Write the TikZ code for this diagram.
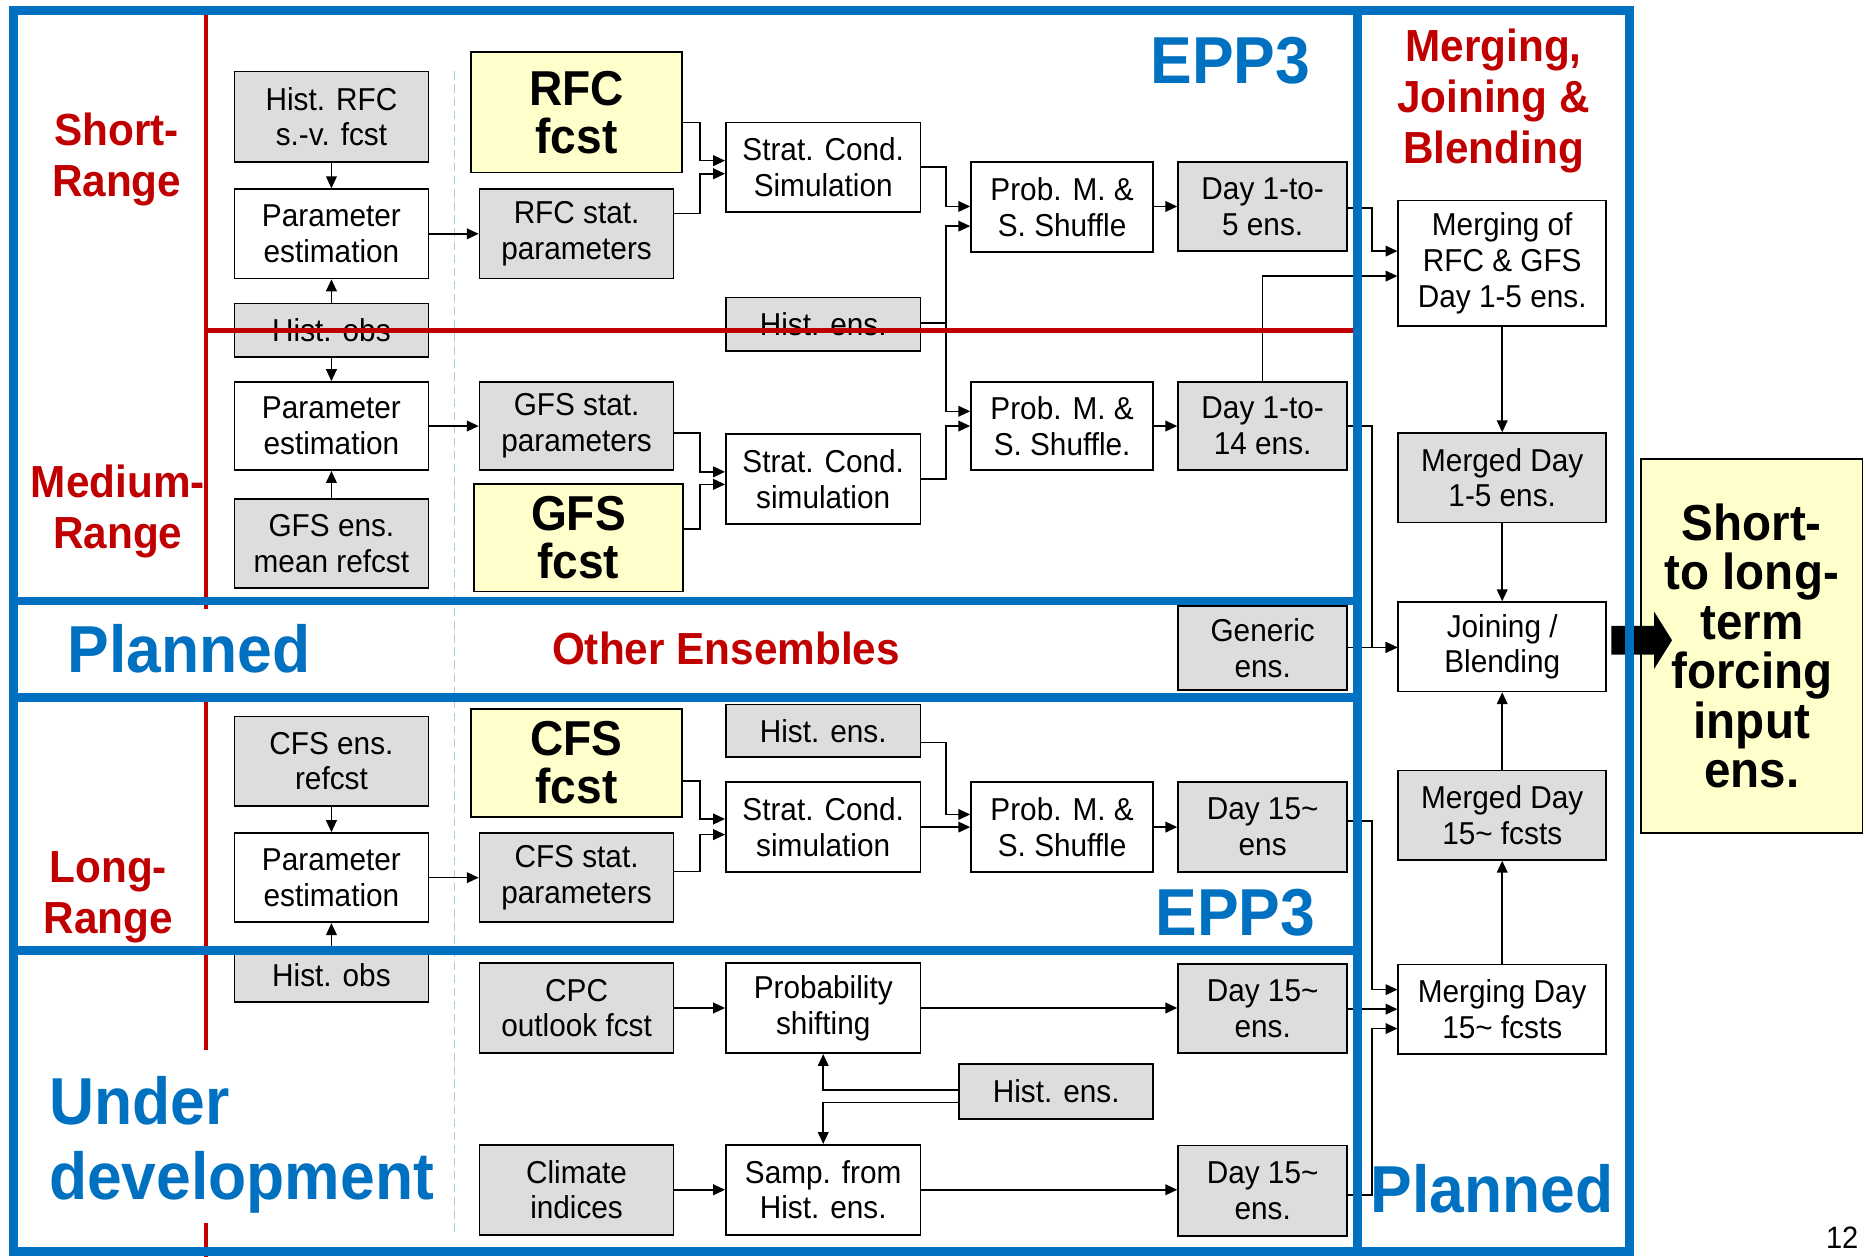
\documentclass[tikz,border=0pt]{standalone}
\usepackage{fontspec}
\setmainfont[FakeStretch=0.94]{Liberation Sans}
\usetikzlibrary{arrows.meta}
\definecolor{eppblue}{HTML}{0070C0}
\definecolor{eppred}{HTML}{C00000}
\definecolor{boxgray}{HTML}{DDDDDD}
\definecolor{boxyellow}{HTML}{FFFFCC}
\definecolor{dashcyan}{HTML}{A8D0DC}
\begin{document}
\begin{tikzpicture}[x=1pt,y=-1pt,
  base/.style={draw=black, line width=1.5pt, align=center, inner sep=0pt, font=\fontsize{26.6}{30}\selectfont},
  gbox/.style={base, fill=boxgray},
  wbox/.style={base, fill=white},
  ybox/.style={base, fill=boxyellow, font=\fontsize{41.2}{40}\selectfont\bfseries},
  arr/.style={line width=1.3pt, -{Triangle[length=10pt,width=9pt]}},
  redlbl/.style={text=eppred, font=\fontsize{37.8}{43}\selectfont\bfseries, align=center, inner sep=0pt},
  bluelbl/.style={text=eppblue, font=\fontsize{55.8}{63}\selectfont\bfseries, inner sep=0pt},
  blueline/.style={draw=eppblue, line width=7.5pt},
  redline/.style={draw=eppred, line width=4pt},
]
\useasboundingbox (0,0) rectangle (1568,1056);
\clip (0,0) rectangle (1568,1056);
\fill[white] (0,0) rectangle (1568,1056);

% dashed guide
\draw[dashcyan, line width=1.3pt, dash pattern=on 7pt off 4pt] (382,60) -- (382,1036);

% column 1
\node[gbox, minimum width=163pt, minimum height=76pt] (hrfc) at (278.5,98) {Hist. RFC\\s.-v. fcst};
\node[wbox, minimum width=163pt, minimum height=75pt] (pe1) at (278.5,196.5) {Parameter\\estimation};
\node[gbox, minimum width=163pt, minimum height=45pt] (hobs1) at (278.5,277.5) {Hist. obs};
\node[wbox, minimum width=163pt, minimum height=74pt] (pe2) at (278.5,358) {Parameter\\estimation};
\node[gbox, minimum width=163pt, minimum height=75pt] (gfsens) at (278.5,456.5) {GFS ens.\\mean refcst};
\node[gbox, minimum width=163pt, minimum height=75pt] (cfsens) at (278.5,639.5) {CFS ens.\\refcst};
\node[wbox, minimum width=163pt, minimum height=75pt] (pe3) at (278.5,737.5) {Parameter\\estimation};
\node[gbox, minimum width=163pt, minimum height=45pt] (hobs2) at (278.5,819.5) {Hist. obs};

% column 2
\node[ybox, minimum width=177pt, minimum height=101pt] (rfcf) at (484.5,94.5) {RFC\\fcst};
\node[gbox, minimum width=163pt, minimum height=75pt] (rfcstat) at (484.5,196.5) {RFC stat.\\parameters};
\node[gbox, minimum width=163pt, minimum height=74pt] (gfsstat) at (484.5,358) {GFS stat.\\parameters};
\node[ybox, minimum width=176pt, minimum height=90pt] (gfsf) at (486,452) {GFS\\fcst};
\node[ybox, minimum width=177pt, minimum height=90.5pt] (cfsf) at (484.5,641) {CFS\\fcst};
\node[gbox, minimum width=163pt, minimum height=75pt] (cfsstat) at (484.5,737.5) {CFS stat.\\parameters};
\node[gbox, minimum width=163pt, minimum height=76pt] (cpc) at (484.5,847) {CPC\\outlook fcst};
\node[gbox, minimum width=163pt, minimum height=75.5pt] (climate) at (484.5,999.75) {Climate\\indices};

% column 3
\node[wbox, minimum width=163.5pt, minimum height=75pt] (strat1) at (691.75,140.5) {Strat. Cond.\\Simulation};
\node[gbox, minimum width=163.5pt, minimum height=45pt] (histens1) at (691.75,272.5) {Hist. ens.};
\node[wbox, minimum width=163.5pt, minimum height=75pt] (strat2) at (691.75,402.5) {Strat. Cond.\\simulation};
\node[gbox, minimum width=163.5pt, minimum height=44pt] (histens2) at (691.75,614) {Hist. ens.};
\node[wbox, minimum width=163.5pt, minimum height=76pt] (strat3) at (691.75,695) {Strat. Cond.\\simulation};
\node[wbox, minimum width=163.5pt, minimum height=76pt] (probshift) at (691.75,847) {Probability\\shifting};
\node[wbox, minimum width=163.5pt, minimum height=75.5pt] (samp) at (691.75,999.75) {Samp. from\\Hist. ens.};

% column 4
\node[wbox, minimum width=153pt, minimum height=76pt] (prob1) at (892.5,174) {Prob. M. \&\\S. Shuffle};
\node[wbox, minimum width=153pt, minimum height=74pt] (prob2) at (892.5,358) {Prob. M. \&\\S. Shuffle.};
\node[wbox, minimum width=153pt, minimum height=76pt] (prob3) at (892.5,695) {Prob. M. \&\\S. Shuffle};
\node[gbox, minimum width=163pt, minimum height=46pt] (histens3) at (887.5,917) {Hist. ens.};

% column 5
\node[gbox, minimum width=142pt, minimum height=75pt] (day5) at (1061,173.5) {Day 1-to-\\5 ens.};
\node[gbox, minimum width=142pt, minimum height=74pt] (day14) at (1061,358) {Day 1-to-\\14 ens.};
\node[gbox, minimum width=142pt, minimum height=71pt] (generic) at (1061,544.5) {Generic\\ens.};
\node[gbox, minimum width=142pt, minimum height=76pt] (day15a) at (1061,695) {Day 15\textasciitilde\\ens};
\node[gbox, minimum width=142pt, minimum height=75pt] (day15b) at (1061,847.5) {Day 15\textasciitilde\\ens.};
\node[gbox, minimum width=142pt, minimum height=76pt] (day15c) at (1061,1000.5) {Day 15\textasciitilde\\ens.};

% right column
\node[wbox, minimum width=174.6pt, minimum height=105.5pt] (merge15) at (1262.3,221.25) {Merging of\\RFC \& GFS\\Day 1-5 ens.};
\node[gbox, minimum width=174.6pt, minimum height=75pt] (merged15) at (1262.3,401.5) {Merged Day\\1-5 ens.};
\node[wbox, minimum width=174.6pt, minimum height=75pt] (join) at (1262.3,543.5) {Joining /\\Blending};
\node[gbox, minimum width=174.6pt, minimum height=75pt] (merged15d) at (1262.3,685) {Merged Day\\15\textasciitilde{} fcsts};
\node[wbox, minimum width=174.6pt, minimum height=75pt] (merging15) at (1262.3,848) {Merging Day\\15\textasciitilde{} fcsts};
\node[base, fill=boxyellow, font=\fontsize{42.5}{41.5}\selectfont\bfseries, minimum width=186pt, minimum height=314.5pt] (out) at (1472,542.75) {Short-\\to long-\\term\\forcing\\input\\ens.};

% connectors
\draw[arr] (hrfc) -- (pe1);
\draw[arr] (hobs1) -- (pe1);
\draw[arr] (hobs1) -- (pe2);
\draw[arr] (gfsens) -- (pe2);
\draw[arr] (pe1) -- (rfcstat);
\draw[arr] (pe2) -- (gfsstat);
\draw[arr] (cfsens) -- (pe3);
\draw[arr] (hobs2) -- (pe3);
\draw[arr] (pe3) -- (cfsstat);

\draw[arr] (rfcf.east |- 0,103) -- (588,103) -- (588,135) -- (strat1.west |- 0,135);
\draw[arr] (rfcstat.east |- 0,179.5) -- (588,179.5) -- (588,146) -- (strat1.west |- 0,146);
\draw[arr] (strat1.east) -- (795,140.5) -- (795,173.5) -- (prob1.west |- 0,173.5);
\draw[arr] (histens1.east |- 0,271.5) -- (795,271.5) -- (795,190) -- (prob1.west |- 0,190);
\draw[arr] (795,271.5) -- (795,345.6) -- (prob2.west |- 0,345.6);
\draw[arr] (strat2.east) -- (795,402.5) -- (795,358) -- (prob2.west);
\draw[arr] (gfsstat.east |- 0,364) -- (588,364) -- (588,396.5) -- (strat2.west |- 0,396.5);
\draw[arr] (gfsf.east |- 0,444.6) -- (588,444.6) -- (588,407) -- (strat2.west |- 0,407);
\draw[arr] (prob1.east |- 0,173.5) -- (day5.west |- 0,173.5);
\draw[arr] (prob2) -- (day14);
\draw[arr] (day5.east |- 0,175) -- (1153,175) -- (1153,211) -- (merge15.west |- 0,211);
\draw[arr] (day14.north) -- (1061,232) -- (merge15.west |- 0,232);
\draw[arr] (day14.east) -- (1153,358) -- (1153,544) -- (join.west |- 0,544);
\draw[arr] (generic.east |- 0,544) -- (join.west |- 0,544);
\draw[arr] (merge15) -- (merged15);
\draw[arr] (merged15) -- (join);
\draw[arr] (merged15d) -- (join);
\draw[arr] (merging15) -- (merged15d);
\draw[arr] (day15a.east |- 0,689.7) -- (1153,689.7) -- (1153,831.6) -- (merging15.west |- 0,831.6);
\draw[arr] (day15b.east |- 0,848) -- (merging15.west |- 0,848);
\draw[arr] (day15c.east |- 0,1004) -- (1153,1004) -- (1153,864.3) -- (merging15.west |- 0,864.3);
\draw[arr] (cfsf.east |- 0,656.3) -- (588,656.3) -- (588,688.2) -- (strat3.west |- 0,688.2);
\draw[arr] (cfsstat.east |- 0,732.3) -- (588,732.3) -- (588,701.3) -- (strat3.west |- 0,701.3);
\draw[arr] (histens2.east |- 0,623.8) -- (795,623.8) -- (795,684.4) -- (prob3.west |- 0,684.4);
\draw[arr] (strat3) -- (prob3);
\draw[arr] (prob3) -- (day15a);
\draw[arr] (cpc) -- (probshift);
\draw[arr] (probshift.east) -- (day15b.west |- probshift.east);
\draw[arr] (histens3.west |- 0,916.1) -- (691.75,916.1) -- (probshift.south);
\draw[arr] (histens3.west |- 0,926.6) -- (691.75,926.6) -- (samp.north);
\draw[arr] (climate) -- (samp);
\draw[arr] (samp.east) -- (day15c.west |- samp.east);

% big output arrow
\fill[black] (1354,526) -- (1390,526) -- (1390,514) -- (1405,538) -- (1390,562) -- (1390,550) -- (1354,550) -- cycle;

% red range lines
\draw[redline] (173,13) -- (173,512);
\draw[redline] (173,278) -- (1140,278);
\draw[redline] (173,590) -- (173,882);
\draw[redline] (173,1028) -- (173,1060);

% blue frames
\draw[blueline] (11,9) rectangle (1141,1052);
\draw[blueline] (11,505) -- (1141,505);
\draw[blueline] (11,586) -- (1141,586);
\draw[blueline] (11,798.5) -- (1141,798.5);
\draw[blueline] (1141,9) rectangle (1369,1052);

% labels
\node[redlbl] (lshort) at (98,134) {Short-\\Range};
\node[redlbl] (lmed) at (99,430) {Medium-\\Range};
\node[redlbl] (llong) at (91,754) {Long-\\Range};
\node[redlbl] (lother) at (610,545) {Other Ensembles};
\node[redlbl] (lmjb) at (1255,85) {Merging,\\Joining \&\\Blending};
\node[bluelbl] (epp3a) at (1034,51) {EPP3};
\node[bluelbl] (epp3b) at (1038,767) {EPP3};
\node[bluelbl] (plannedl) at (159,545) {Planned};
\node[bluelbl] (plannedr) at (1254,999) {Planned};
\node[bluelbl, align=left, anchor=west] (underdev) at (41,962) {Under\\development};
\node[anchor=south, inner sep=0pt, font=\fontsize{26}{26}\selectfont] (pagenum) at (1548,1049) {12};
\end{tikzpicture}
\end{document}
